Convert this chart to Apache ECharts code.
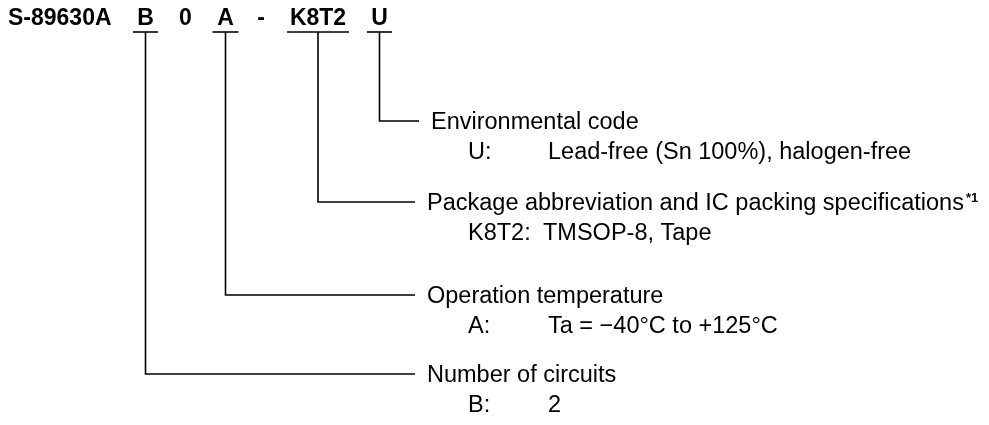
<!DOCTYPE html>
<html>
<head>
<meta charset="utf-8">
<script src="https://cdn.jsdelivr.net/npm/echarts@6/dist/echarts.min.js"></script>
<style>
  html, body { margin: 0; background: #fff; }
  #chart { width: 989px; height: 425px; }
</style>
</head>
<body>
<div id="chart"></div>
<script>
// part number pieces, left to right
const partCodes = ['S-89630A', 'B', '0', 'A', '-', 'K8T2', 'U'];
const partX = [8, 145.5, 185.5, 225.5, 261, 318, 379.5];
const partAlign = ['left', 'center', 'center', 'center', 'center', 'center', 'center'];

// fields with a callout, bottom first
const fieldCodes = ['B', 'A', 'K8T2', 'U'];
const fieldX = [145.5, 225.5, 318, 379.5];
const fieldHalf = [12.5, 13, 31, 12.5];
const fieldY = [374, 295, 202, 121];
const fieldLineEnd = [415, 415, 415, 419];
const fieldTitles = ['Number of circuits', 'Operation temperature',
  'Package abbreviation and IC packing specifications', 'Environmental code'];
const fieldKeys = ['B:', 'A:', 'K8T2:', 'U:'];
const fieldValues = ['2', 'Ta = \u221240\u00b0C to +125\u00b0C', 'TMSOP-8, Tape',
  'Lead-free (Sn 100%), halogen-free'];
const fieldValueX = [548, 548, 543, 548];
const fieldNotes = ['', '', '*1', ''];

const underlineY = 32;
const FONT = '"Liberation Sans", Arial, sans-serif';

const chart = echarts.init(document.getElementById('chart'));

function txt(p, text, size, weight, align, rich) {
  return {
    type: 'text', x: p[0], y: p[1],
    style: {
      text: text, fill: '#000', fontSize: size, fontWeight: weight,
      fontFamily: FONT, align: align || 'left', verticalAlign: 'middle',
      rich: rich
    }
  };
}

const noteRich = {
  t: { fontSize: 23.5, fontFamily: FONT, fill: '#000', verticalAlign: 'bottom' },
  s: { fontSize: 13, fontWeight: 'bold', fontFamily: FONT, fill: '#000', verticalAlign: 'top', padding: [0, 0, 0, 2] }
};

chart.setOption({
  animation: false,
  grid: { left: 0, right: 0, top: 0, bottom: 0 },
  xAxis: { type: 'value', min: 0, max: 989, show: false },
  yAxis: { type: 'value', min: 0, max: 425, inverse: true, show: false },
  series: [
    {
      type: 'custom',
      data: partCodes.map((c, i) => [partX[i], 19, i]),
      encode: { x: 0, y: 1 },
      renderItem: function (params, api) {
        const i = api.value(2);
        return txt(api.coord([api.value(0), api.value(1)]), partCodes[i], 23, 'bold', partAlign[i]);
      }
    },
    {
      type: 'custom',
      data: fieldCodes.map((c, i) => [fieldX[i], fieldY[i], i]),
      encode: { x: 0, y: 1 },
      renderItem: function (params, api) {
        const i = api.value(2);
        const x = api.value(0), y = api.value(1);
        const lineStyle = { stroke: '#000', lineWidth: 1.6, fill: null };
        const a = api.coord([x - fieldHalf[i], underlineY]);
        const b = api.coord([x + fieldHalf[i], underlineY]);
        const top = api.coord([x, underlineY]);
        const corner = api.coord([x, y]);
        const end = api.coord([fieldLineEnd[i], y]);
        const labelX = fieldLineEnd[i] + 12;
        const title = fieldNotes[i]
          ? txt(api.coord([labelX, y + 1.5]), '{t|' + fieldTitles[i] + '}{s|' + fieldNotes[i] + '}', 23.5, 'normal', 'left', noteRich)
          : txt(api.coord([labelX, y + 1.5]), fieldTitles[i], 23.5, 'normal');
        return {
          type: 'group',
          children: [
            { type: 'line', shape: { x1: a[0], y1: a[1], x2: b[0], y2: b[1] }, style: lineStyle },
            { type: 'polyline', shape: { points: [top, corner, end] }, style: lineStyle },
            title,
            txt(api.coord([468, y + 32]), fieldKeys[i], 23.5, 'normal'),
            txt(api.coord([fieldValueX[i], y + 32]), fieldValues[i], 23.5, 'normal')
          ]
        };
      }
    }
  ]
});
</script>
</body>
</html>
